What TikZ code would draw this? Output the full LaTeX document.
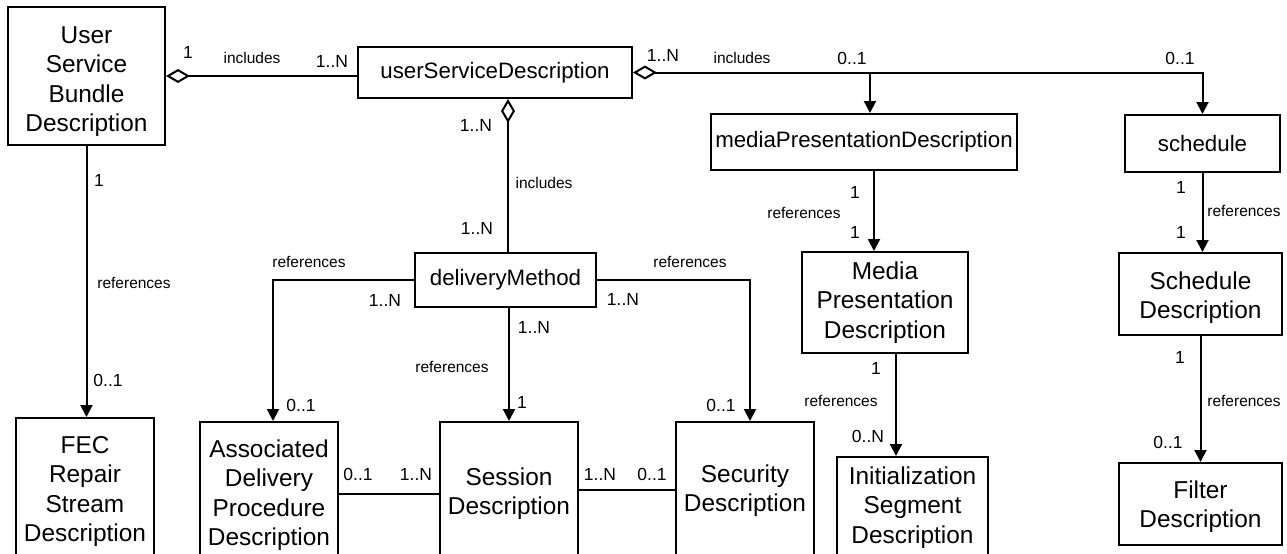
\documentclass[tikz,border=0pt]{standalone}
\usepackage{fontspec}
\setmainfont{Liberation Sans}
\usetikzlibrary{arrows.meta}
\tikzset{box/.style={rectangle,draw=black,line width=1pt,align=center,inner sep=0pt,font=\fontsize{12.2}{14.75}\selectfont}}
\tikzset{namebox/.style={box,font=\fontsize{11.15}{13.4}\selectfont}}
\tikzset{cutbox/.style={box,anchor=north,minimum height=80pt}}
\tikzset{boxtext/.style={align=center,inner sep=0pt,anchor=north,font=\fontsize{12.2}{14.75}\selectfont}}
\tikzset{mult/.style={inner sep=0pt,font=\fontsize{8.75}{10}\selectfont}}
\tikzset{role/.style={inner sep=0pt,font=\fontsize{7.75}{9}\selectfont}}
\tikzset{toArrow/.style={-{Triangle[length=6pt,width=6pt]},line width=1pt}}
\tikzset{agg/.style={{Diamond[open,length=12pt,width=7pt]}-,line width=1pt}}
\tikzset{aggTo/.style={{Diamond[open,length=12pt,width=7pt]}-{Triangle[length=6pt,width=6pt]},line width=1pt}}
\tikzset{assoc/.style={-,line width=1pt}}
\begin{document}
\begin{tikzpicture}
\begin{scope}[x=0.5pt,y=-0.5pt]
	\useasboundingbox (0,0) rectangle (1287,553);
	\clip (0,0) rectangle (1287,553);
	% boxes
	\node (usbd) [box,minimum width=78.5pt,minimum height=69pt,label={[boxtext,yshift=-10pt]north:User\\Service\\Bundle\\Description}] at (86.5,76) {};
	\node (usd) [namebox,minimum width=137pt,minimum height=25.5pt] at (495,72.5) {userServiceDescription};
	\node (mpd) [namebox,minimum width=153pt,minimum height=28pt] at (864,142) {mediaPresentationDescription};
	\node (sched) [namebox,minimum width=77.5pt,minimum height=28.5pt] at (1202.5,143.5) {schedule};
	\node (dm) [namebox,minimum width=90.5pt,minimum height=27pt] at (505.5,280) {deliveryMethod};
	\node (mediaPD) [box,minimum width=83pt,minimum height=50.5pt] at (885,302.5) {Media\\Presentation\\Description};
	\node (schedD) [box,minimum width=81.5pt,minimum height=41pt,label={[boxtext,yshift=-9.5pt]north:Schedule\\Description}] at (1200.5,294) {};
	\node (filter) [box,minimum width=81.5pt,minimum height=41pt,label={[boxtext,yshift=-9pt]north:Filter\\Description}] at (1200.5,504) {};
	\node (fec) [cutbox,minimum width=69pt,label={[boxtext,yshift=-9.5pt]north:FEC\\Repair\\Stream\\Description}] at (85,417) {};
	\node (adpd) [cutbox,minimum width=69pt,label={[boxtext,yshift=-9pt]north:Associated\\Delivery\\Procedure\\Description}] at (269,421) {};
	\node (sess) [cutbox,minimum width=69pt,label={[boxtext,yshift=-23pt]north:Session\\Description}] at (509,421) {};
	\node (sec) [cutbox,minimum width=69pt,label={[boxtext,yshift=-21.5pt]north:Security\\Description}] at (745,421) {};
	\node (init) [cutbox,minimum width=75.5pt,label={[boxtext,yshift=-5pt]north:Initialization\\Segment\\Description}] at (912.5,456) {};
	% connectors
	\draw[agg] (usbd.east) -- (usbd.east -| usd.west);
	\draw[aggTo] (usd.east) -| (sched.north);
	\draw[toArrow] ([xshift=3pt]mpd.north |- usd.east) -- ([xshift=3pt]mpd.north);
	\draw[agg] ([xshift=6.5pt]usd.south) -- ([xshift=6.5pt]usd.south |- dm.north);
	\draw[toArrow] (usbd.south) -- (usbd.south |- fec.north);
	\draw[toArrow] (dm.west) -| ([xshift=2pt]adpd.north);
	\draw[toArrow] (sess.north |- dm.south) -- (sess.north);
	\draw[toArrow] (dm.east) -| ([xshift=2.5pt]sec.north);
	\draw[assoc] ([yshift=4pt]adpd.east) -- ([yshift=4pt]adpd.east -| sess.west);
	\draw[assoc] ([yshift=6pt]sess.east) -- ([yshift=6pt]sess.east -| sec.west);
	\draw[toArrow] ([xshift=5pt]mpd.south) -- ([xshift=5pt]mpd.south |- mediaPD.north);
	\draw[toArrow] ([xshift=5.5pt]mediaPD.south) -- ([xshift=5.5pt]mediaPD.south |- init.north);
	\draw[toArrow] (sched.south) -- (sched.south |- schedD.north);
	\draw[toArrow] (schedD.south) -- (schedD.south |- filter.north);
	% labels
	\node (m1) [mult] at (188,52) {1};
	\node (r1) [role] at (252,58) {includes};
	\node (m2) [mult] at (332,61) {1..N};
	\node (m3) [mult] at (663,55) {1..N};
	\node (r2) [role] at (742,58) {includes};
	\node (m4) [mult] at (852,58) {0..1};
	\node (m5) [mult] at (1180,58) {0..1};
	\node (m6) [mult] at (476,125) {1..N};
	\node (r3) [role] at (544,183) {includes};
	\node (m7) [mult] at (477,228) {1..N};
	\node (m8) [mult] at (99,180) {1};
	\node (r4) [role] at (134,283) {references};
	\node (m9) [mult] at (108,380) {0..1};
	\node (r5) [role] at (309,262) {references};
	\node (m10) [mult] at (385,300) {1..N};
	\node (m11) [mult] at (301,405) {0..1};
	\node (m12) [mult] at (534,327) {1..N};
	\node (r6) [role] at (452,367) {references};
	\node (m13) [mult] at (522,402) {1};
	\node (r7) [role] at (690,262) {references};
	\node (m14) [mult] at (623,299) {1..N};
	\node (m15) [mult] at (721,405) {0..1};
	\node (m16) [mult] at (358,474) {0..1};
	\node (m17) [mult] at (416,474) {1..N};
	\node (m18) [mult] at (600,474) {1..N};
	\node (m19) [mult] at (652,474) {0..1};
	\node (m20) [mult] at (855,192) {1};
	\node (r8) [role] at (804,213) {references};
	\node (m21) [mult] at (855,232) {1};
	\node (m22) [mult] at (876,368) {1};
	\node (r9) [role] at (841,401) {references};
	\node (m23) [mult] at (868,436) {0..N};
	\node (m24) [mult] at (1181,187) {1};
	\node (r10) [role] at (1244,211) {references};
	\node (m25) [mult] at (1181,232) {1};
	\node (m26) [mult] at (1180,357) {1};
	\node (r11) [role] at (1244,401) {references};
	\node (m27) [mult] at (1168,442) {0..1};
\end{scope}
\end{tikzpicture}
\end{document}
